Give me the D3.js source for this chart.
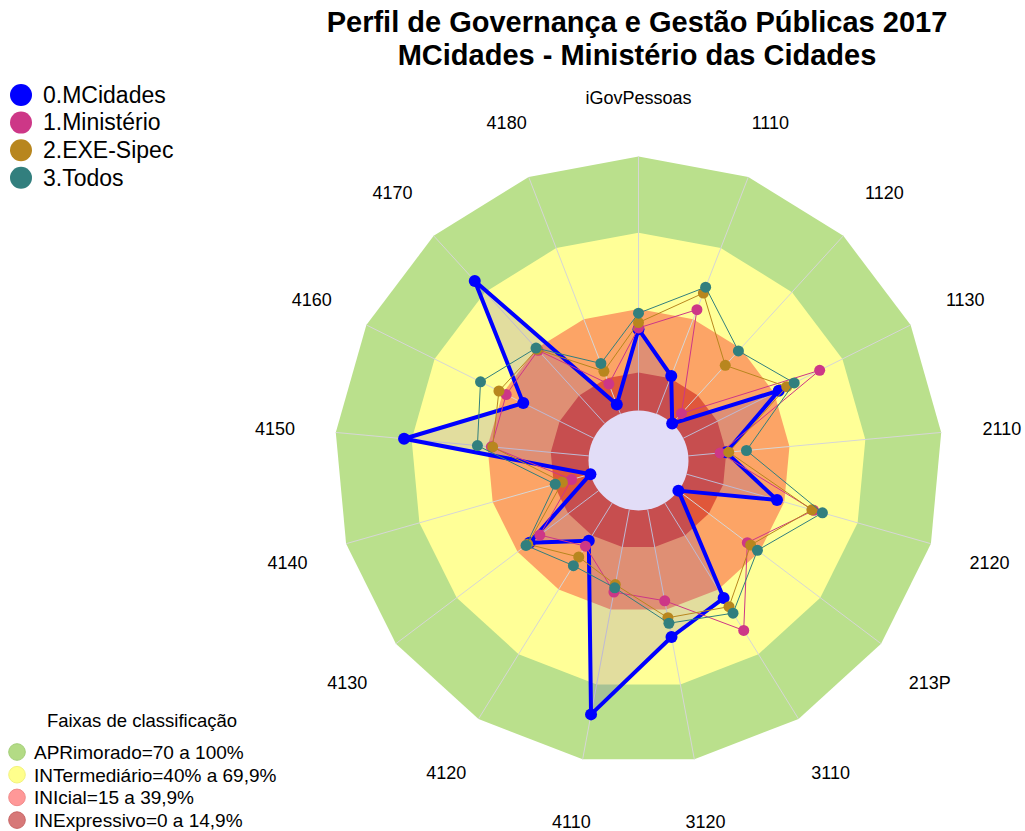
<!DOCTYPE html>
<html><head><meta charset="utf-8">
<script src="https://cdn.jsdelivr.net/npm/d3@7"></script>
<style>
html,body{margin:0;padding:0;background:#fff;}
svg text{font-family:"Liberation Sans",Arial,sans-serif;fill:#000;}
</style></head>
<body>
<svg id="chart" width="1025" height="831"></svg>
<script>
// ---- data ----
const axes = ["iGovPessoas","1110","1120","1130","2110","2120","213P","3110","3120","4110","4120","4130","4140","4150","4160","4170","4180"];
const mcidades   = [32, 16, 0, 42, 15, 37, 0, 44, 51, 82, 17.5, 34, 0, 73, 31, 76, 4];
const ministerio = [32.5, 44, 5.4, 60, 12.6, 52, 34, 59, 36.5, 33, 20, 29, 7.7, 38.5, 38.5, 39, 12.6];
const exeSipec   = [34.6, 51, 31, 45.5, 16, 51.3, 35.6, 48, 43.3, 30, 25, 35, 11.5, 38, 41.7, 39.5, 18];
const todos      = [38.3, 53.5, 38.7, 48.8, 23, 55.6, 39, 51, 45.5, 31.3, 29, 35.8, 14.4, 44, 49.8, 40.2, 21.3];
const seriesNames = ["0.MCidades","1.Ministério","2.EXE-Sipec","3.Todos"];
const bandNames = ["APRimorado=70 a 100%","INTermediário=40% a 69,9%","INIcial=15 a 39,9%","INExpressivo=0 a 14,9%"];
const bandLimits = [100, 70, 40, 15];
const titleLines = ["Perfil de Governança e Gestão Públicas 2017","MCidades - Ministério das Cidades"];

// ---- styles ----
const seriesColors = ["#0000ff","#cd3787","#b8861e","#327f7e"];
const bandColors = ["#bae08c","#ffff97","#fca466","#e0573a"];
const legendBandColors = ["#b3db85","#ffff8c","#ff9898","#d77878"];
const legendBandStroke = ["#a3cf78","#f3f37c","#f08a8a","#c86666"];

const svg = d3.select("#chart");
const cx = 638.5, cy = 460.5;
const r = d3.scaleLinear().domain([0,100]).range([50,304]);
const n = axes.length;
const ang = d3.scaleLinear().domain([0,n]).range([0,2*Math.PI]);
const px = (i,v)=> cx + r(v)*Math.sin(ang(i));
const py = (i,v)=> cy - r(v)*Math.cos(ang(i));
const idx = d3.range(n);

// bands
const g = svg.append("g");
bandLimits.forEach((lim,k)=>{
  g.append("path")
   .attr("d", d3.line()(idx.map(i=>[px(i,lim),py(i,lim)])) + "Z")
   .attr("fill", bandColors[k]);
});
// axis lines
idx.forEach(i=>{
  g.append("line")
   .attr("x1",px(i,0)).attr("y1",py(i,0))
   .attr("x2",px(i,100)).attr("y2",py(i,100))
   .attr("stroke","#d6d6d6").attr("stroke-width",1);
});
// center hole
g.append("circle").attr("cx",cx).attr("cy",cy).attr("r",r(0)).attr("fill","#ffffff");

// series
const allSeries = [mcidades, ministerio, exeSipec, todos];
allSeries.forEach((vals,k)=>{
  const pts = vals.map((v,i)=>[px(i,v),py(i,v)]);
  const sg = svg.append("g");
  sg.append("path")
    .attr("d", d3.line()(pts)+"Z")
    .attr("fill", k===0 ? "rgba(60,30,200,0.15)" : "none")
    .attr("stroke", seriesColors[k])
    .attr("stroke-width", k===0 ? 4 : 1)
    .attr("stroke-linejoin","round");
  sg.selectAll("circle").data(pts).join("circle")
    .attr("cx",d=>d[0]).attr("cy",d=>d[1])
    .attr("r", k===0 ? 6 : 5.5)
    .attr("fill", seriesColors[k]);
});

// axis labels
idx.forEach(i=>{
  svg.append("text")
    .attr("x", cx + 365*Math.sin(ang(i)))
    .attr("y", cy - 365*Math.cos(ang(i)) + 2.5)
    .attr("text-anchor","middle").attr("dominant-baseline","central")
    .style("font-size","18px")
    .text(axes[i]);
});

// title
titleLines.forEach((t,k)=>{
  svg.append("text").attr("x",637).attr("y",32+k*33)
    .attr("text-anchor","middle")
    .style("font-size","29px").style("font-weight","bold")
    .text(t);
});

// series legend
seriesNames.forEach((s,k)=>{
  const y = 95 + k*27.6;
  svg.append("circle").attr("cx",21).attr("cy",y).attr("r",11).attr("fill",seriesColors[k]);
  svg.append("text").attr("x",43).attr("y",y+7.8).style("font-size","23px").text(s);
});

// band legend
svg.append("text").attr("x",142).attr("y",727).attr("text-anchor","middle").style("font-size","18.5px").text("Faixas de classificação");
bandNames.forEach((s,k)=>{
  const y = 752 + k*22.7;
  svg.append("circle").attr("cx",17).attr("cy",y).attr("r",8.3)
     .attr("fill",legendBandColors[k]).attr("stroke",legendBandStroke[k]).attr("stroke-width",1);
  svg.append("text").attr("x",34).attr("y",y+6.8).style("font-size","19px").text(s);
});
</script>
</body></html>
